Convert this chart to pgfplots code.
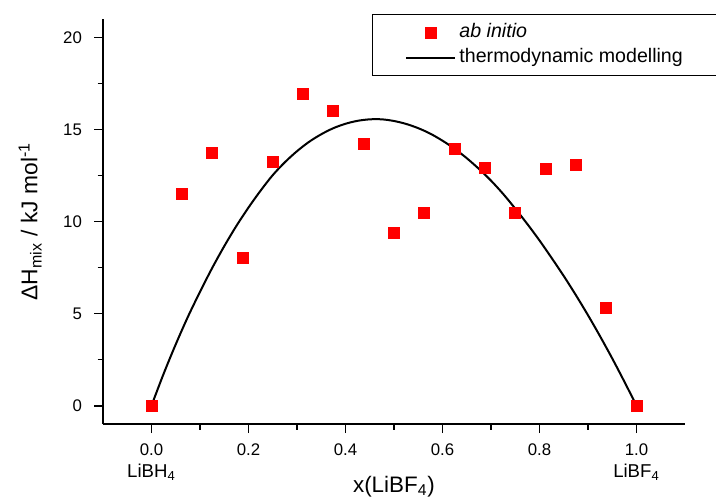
\documentclass[border=0pt]{standalone}
\usepackage{pgfplots}
\pgfplotsset{compat=1.18}
\usepackage{fontspec}
\setmainfont{Liberation Sans}
\setsansfont{Liberation Sans}

\pgfplotsset{
  legmark/.style={legend image code/.code={\draw[mark repeat=2,mark phase=2,##1] plot coordinates {(0pt,0pt) (12.25pt,0pt) (24.5pt,0pt)};}},
  legline/.style={legend image code/.code={\draw[##1] (0pt,0pt) -- (24.5pt,0pt);}},
}

% ab initio points, x in steps of 1/16
\pgfplotstableread{
x       y
0.0     0.0
0.0625  11.52
0.125   13.73
0.1875  8.01
0.25    13.23
0.3125  16.92
0.375   16.03
0.4375  14.22
0.5     9.37
0.5625  10.46
0.625   13.93
0.6875  12.93
0.75    10.46
0.8125  12.85
0.875   13.06
0.9375  5.33
1.0     0.0
}\abinitio

% thermodynamic modelling curve
\pgfplotstableread{
x      y
0.0    0.0
0.025  1.73
0.05   3.33
0.075  4.82
0.1    6.18
0.125  7.47
0.15   8.66
0.175  9.76
0.2    10.76
0.225  11.68
0.25   12.52
0.275  13.22
0.3    13.82
0.325  14.33
0.35   14.74
0.375  15.07
0.4    15.31
0.425  15.47
0.45   15.55
0.475  15.55
0.5    15.46
0.525  15.30
0.55   15.07
0.575  14.77
0.6    14.39
0.625  13.95
0.65   13.44
0.675  12.86
0.7    12.22
0.725  11.50
0.75   10.70
0.775  9.86
0.8    8.97
0.825  8.02
0.85   7.04
0.875  6.00
0.9    4.91
0.925  3.76
0.95   2.56
0.975  1.30
1.0    0.0
}\thermo

\begin{document}
\begin{tikzpicture}
\useasboundingbox (0,0) rectangle (358pt,250pt);
\begin{axis}[
    at={(51.5pt,38pt)}, anchor=south west,
    scale only axis, width=291pt, height=202.5pt,
    xmin=-0.1, xmax=1.1, ymin=-1, ymax=21,
    axis x line*=bottom, axis y line*=left,
    axis line style={line width=1pt, black},
    tick style={line width=0.9pt, black},
    tick align=outside,
    major tick length=4.5pt, minor tick length=2.75pt,
    xtick={0,0.2,0.4,0.6,0.8,1.0},
    xticklabels={0.0\\{\fontsize{9.3}{10.85}\selectfont LiBH\textsubscript{4}}, 0.2, 0.4, 0.6, 0.8, 1.0\\{\fontsize{9.3}{10.85}\selectfont LiBF\textsubscript{4}}},
    minor x tick num=1,
    ytick={0,5,10,15,20},
    minor y tick num=1,
    xticklabel style={align=center, font=\fontsize{8.4}{10.85}\selectfont, yshift=-2pt},
    yticklabel style={font=\fontsize{8.4}{10}\selectfont, xshift=-2.5pt},
    /pgf/number format/assume math mode=true,
    xlabel={x(LiBF\textsubscript{4})},
    xlabel style={at={(rel axis cs:0.5,0)}, anchor=north, yshift=-22.5pt, font=\fontsize{11.2}{13}\selectfont},
    ylabel={ΔH\textsubscript{mix} / kJ mol\textsuperscript{-1}},
    ylabel style={font=\fontsize{11.4}{13}\selectfont},
    ylabel shift=4pt,
    legend cell align=left,
    legend style={at={(0.462,1.012)}, anchor=north west, draw=black, line width=0.6pt,
        fill=white, inner xsep=16.5pt, inner ysep=2.75pt, row sep=0pt,
        font=\fontsize{9.8}{12}\selectfont,
        nodes={inner xsep=1.5pt, inner ysep=1.25pt, text height=7.5pt, text depth=2.5pt}},
]
\addplot[only marks, mark=square*, mark size=2.75pt, mark options={fill=red, draw=red}, legmark]
    table[x=x, y=y] {\abinitio};
\addlegendentry{\textit{ab initio}}
\addplot[black, line width=1pt, smooth, legline]
    table[x=x, y=y] {\thermo};
\addlegendentry{thermodynamic modelling}
\end{axis}
\end{tikzpicture}
\end{document}
